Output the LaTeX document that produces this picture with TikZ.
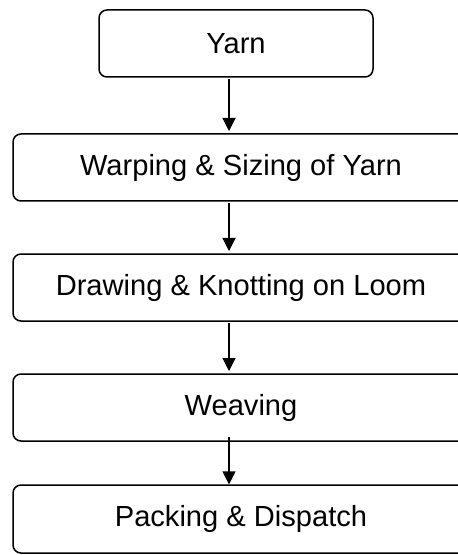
\documentclass[tikz,border=0pt]{standalone}
\usepackage{fontspec}
\setmainfont{Liberation Sans}
\usetikzlibrary{arrows.meta}
\begin{document}
\begin{tikzpicture}[x=0.5pt,y=-0.5pt,
  stagebox/.style={draw=black, line width=0.75pt, rounded corners=4pt,
    fill=white, inner sep=0pt, outer sep=0pt, minimum height=33.5pt,
    font=\fontsize{14.55pt}{17pt}\selectfont},
  flow/.style={draw=black, line width=0.6pt,
    -{Triangle[width=6.5pt,length=6.5pt]}, shorten >=1.5pt, shorten <=1pt}]
  \useasboundingbox (0,0) rectangle (458,555);
  \clip (0,0) rectangle (458,555);

  % process stages
  \node[stagebox, minimum width=137pt] (yarn) at (236,43.5) {Yarn};
  \node[stagebox, minimum width=228pt] (warp) at (241,167.5) {Warping \& Sizing of Yarn};
  \node[stagebox, minimum width=228pt] (draw) at (241,287.5) {Drawing \& Knotting on Loom};
  \node[stagebox, minimum width=228pt] (weave) at (241,407.5) {Weaving};
  \node[stagebox, minimum width=228pt, minimum height=34pt] (pack) at (241,519) {Packing \& Dispatch};

  % vertical line the connectors run along
  \coordinate (axis) at (229,0);

  \draw[flow] (yarn.south -| axis) -- (warp.north -| axis);
  \draw[flow] (warp.south -| axis) -- (draw.north -| axis);
  \draw[flow] (draw.south -| axis) -- (weave.north -| axis);
  \draw[flow, shorten <=-2pt, shorten >=0.3pt] (weave.south -| axis) -- (pack.north -| axis);
\end{tikzpicture}
\end{document}
